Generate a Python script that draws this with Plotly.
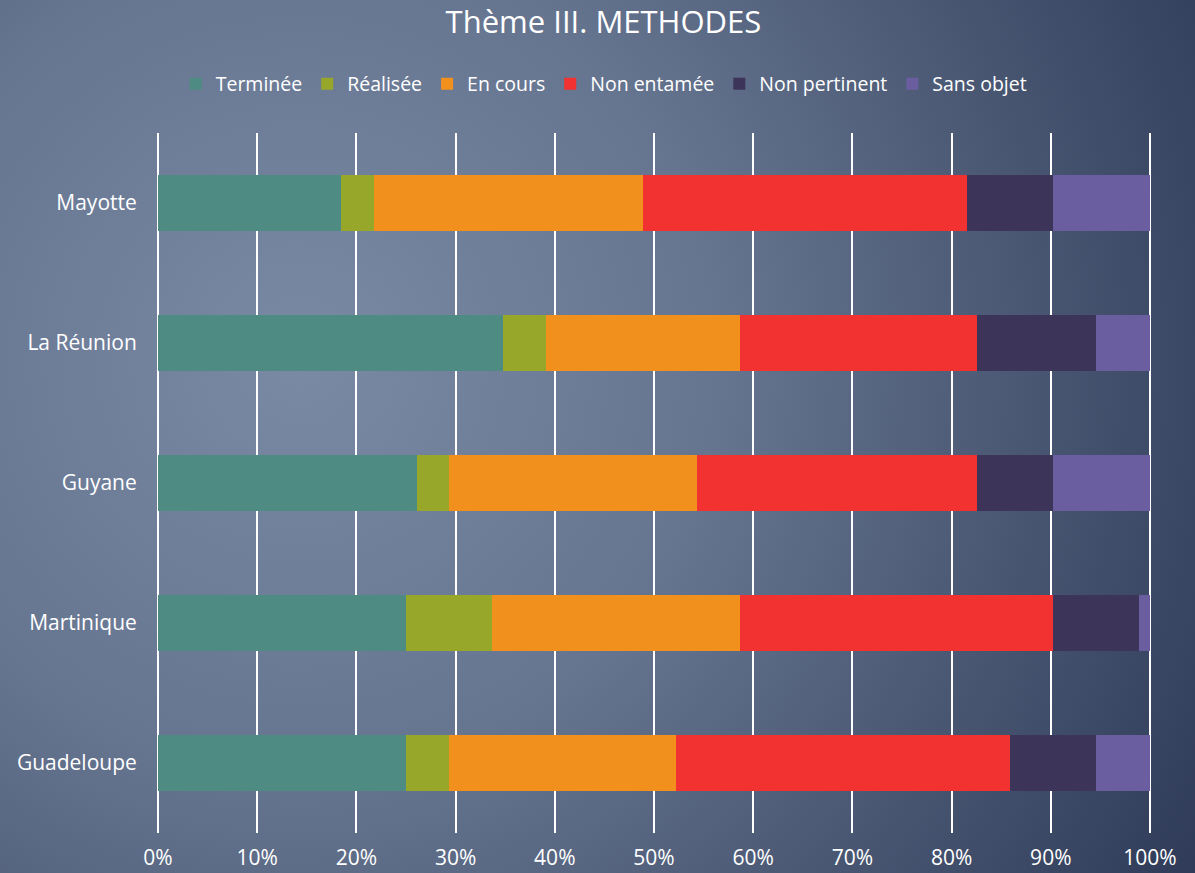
import base64
import plotly.graph_objects as go

categories = ["Guadeloupe", "Martinique", "Guyane", "La Réunion", "Mayotte"]
series_names = ["Terminée", "Réalisée", "En cours", "Non entamée", "Non pertinent", "Sans objet"]
terminee = [23, 23, 24, 32, 17]
realisee = [4, 8, 3, 4, 3]
en_cours = [21, 23, 23, 18, 25]
non_entamee = [31, 29, 26, 22, 30]
non_pertinent = [8, 8, 7, 11, 8]
sans_objet = [5, 1, 9, 5, 9]
x_ticks = list(range(0, 101, 10))
x_tick_labels = [f"{v}%" for v in x_ticks]

series_values = [terminee, realisee, en_cours, non_entamee, non_pertinent, sans_objet]
colors = ["#4e8b83", "#97a72a", "#f2901e", "#f23131", "#3d345a", "#6b5ea0"]

W, H = 1195, 873
L, R, T, B = 156, 43, 133, 40

svg = f'''<svg xmlns="http://www.w3.org/2000/svg" width="{W}" height="{H}" viewBox="0 0 {W} {H}" preserveAspectRatio="none">
<defs><radialGradient id="g" gradientUnits="userSpaceOnUse" cx="300" cy="360" r="1050">
<stop offset="0" stop-color="#7a8aa4"/>
<stop offset="0.4" stop-color="#65748f"/>
<stop offset="1" stop-color="#2d3956"/>
</radialGradient></defs>
<rect x="0" y="0" width="{W}" height="{H}" fill="url(#g)"/></svg>'''
bg_uri = "data:image/svg+xml;base64," + base64.b64encode(svg.encode()).decode()

font = "'Open Sans', Lato, sans-serif"

fig = go.Figure()
for name, vals, col in zip(series_names, series_values, colors):
    fig.add_trace(go.Bar(y=categories, x=vals, name=name, orientation="h",
                         marker=dict(color=col, line=dict(width=0))))

pw = W - L - R
ph = H - T - B
fig.update_layout(
    width=W, height=H,
    barmode="stack", barnorm="percent", bargap=0.6,
    margin=dict(l=L, r=R, t=T, b=B, autoexpand=False),
    paper_bgcolor="#5a6985", plot_bgcolor="rgba(0,0,0,0)",
    font=dict(family=font, color="white", size=19),
    title=dict(text="Thème III. METHODES", x=0.505, xanchor="center", y=0.975, yanchor="middle",
               font=dict(size=31, color="white", family=font)),
    legend=dict(orientation="h", x=0.45, xanchor="center", y=1 + (T - 84) / ph, yanchor="middle",
                font=dict(size=19.5, color="white"), bgcolor="rgba(0,0,0,0)", traceorder="normal",
                itemwidth=30),
    xaxis=dict(range=[-0.2, 100.2], tickvals=x_ticks, ticktext=x_tick_labels, showgrid=True,
               gridcolor="white", gridwidth=2, zeroline=False, showline=False, automargin=False,
               ticks="outside", ticklen=6, tickcolor="rgba(0,0,0,0)",
               tickfont=dict(size=21, color="white")),
    yaxis=dict(categoryorder="array", categoryarray=categories, showgrid=False, zeroline=False,
               showline=False, automargin=False, ticks="outside", ticklen=14,
               tickcolor="rgba(0,0,0,0)", tickfont=dict(size=21, color="white")),
    images=[dict(source=bg_uri, xref="paper", yref="paper", x=-L / pw, y=1 + T / ph,
                 sizex=W / pw, sizey=H / ph, sizing="stretch", xanchor="left", yanchor="top",
                 layer="below")],
)

fig.write_html("out.html", config={"displayModeBar": False},
               post_script="document.body.style.margin='0';document.body.style.overflow='hidden';")
